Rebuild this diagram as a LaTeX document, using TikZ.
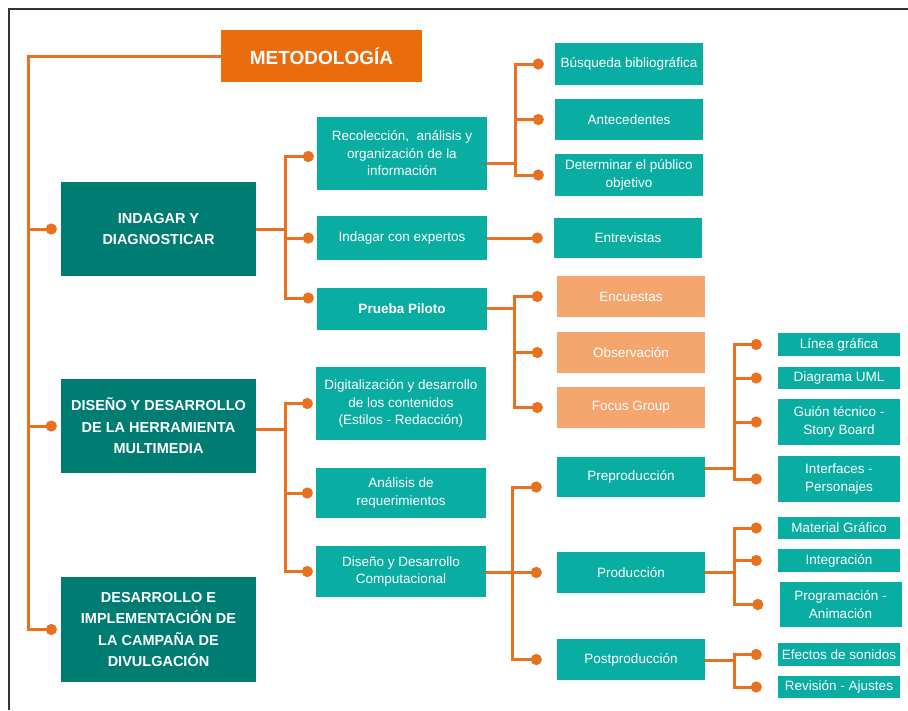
\documentclass[tikz,border=0pt]{standalone}
\usepackage{fontspec}
\setmainfont{Liberation Sans}
\usetikzlibrary{arrows.meta}
\definecolor{titor}{HTML}{EB6C0B}
\definecolor{stageteal}{HTML}{007D73}
\definecolor{taskteal}{HTML}{0AADA1}
\definecolor{probeor}{HTML}{F5A56E}
\definecolor{linkor}{HTML}{E8711F}
\definecolor{frame}{HTML}{333333}

\begin{document}
\begin{tikzpicture}[
    x=1pt, y=-1pt,
    title/.style={rectangle, fill=titor, text=white, minimum width=201pt, minimum height=52pt, inner sep=0pt, font=\bfseries\fontsize{19}{22}\selectfont},
    stage/.style={rectangle, fill=stageteal, text=white, minimum width=195pt, inner sep=2pt, align=center, font=\bfseries\fontsize{14.5}{21.5}\selectfont},
    box/.style={rectangle, fill=taskteal, text=white, inner sep=2pt, align=center, font=\fontsize{13.5}{17.5}\selectfont},
    task/.style={box, minimum width=170pt},
    sub/.style={box, minimum width=148pt},
    probe/.style={sub, fill=probeor},
    leaf/.style={box, minimum width=122pt},
    link/.style={draw=linkor, line width=3pt, -{Circle[length=11pt]}, shorten >=#1},
    link/.default=3pt
]
    \useasboundingbox (0,0) rectangle (908,710);
    \draw[frame, line width=1.3pt] (908,9) -- (9,9) -- (9,710);

    % title and stages
    \node[title] (met) at (321.5,56) {METODOLOGÍA};
    \node[stage, minimum height=94pt] (ind) at (158.5,229) {INDAGAR Y\\DIAGNOSTICAR};
    \node[stage, minimum height=94pt] (dis) at (158.5,426) {DISEÑO Y DESARROLLO\\DE LA HERRAMIENTA\\MULTIMEDIA};
    \node[stage, minimum height=105pt] (dif) at (158.5,629.5) {DESARROLLO E\\IMPLEMENTACIÓN DE\\LA CAMPAÑA DE\\DIVULGACIÓN};

    % second level
    \node[task, minimum height=73pt] (rec) at (402,153.5) {Recolección,\ \ análisis y\\organización de la\\información};
    \node[task, minimum height=44pt] (exp) at (402,238) {Indagar con expertos};
    \node[task, minimum height=42pt, font=\bfseries\fontsize{13.5}{17.5}\selectfont] (pil) at (402,309) {Prueba Piloto};
    \node[task, minimum height=73pt] (dig) at (401,403.5) {Digitalización y desarrollo\\de los contenidos\\(Estilos - Redacción)};
    \node[task, minimum height=50pt] (req) at (401,493) {Análisis de\\requerimientos};
    \node[task, minimum height=51pt] (com) at (401,571.5) {Diseño y Desarrollo\\Computacional};

    % third level
    \node[sub, minimum height=42pt] (bus) at (629,64) {Búsqueda bibliográfica};
    \node[sub, minimum height=41pt] (ant) at (629,119.5) {Antecedentes};
    \node[sub, minimum height=42pt] (pub) at (629,175) {Determinar el público\\objetivo};
    \node[sub, minimum height=40pt] (ent) at (628,238) {Entrevistas};
    \node[probe, minimum height=41pt] (enc) at (631,296.5) {Encuestas};
    \node[probe, minimum height=41pt] (obs) at (631,352.5) {Observación};
    \node[probe, minimum height=41pt] (foc) at (631,407.5) {Focus Group};
    \node[sub, minimum height=40pt] (pre) at (631,477) {Preproducción};
    \node[sub, minimum height=41pt] (pro) at (631,572.5) {Producción};
    \node[sub, minimum height=41pt] (pos) at (631,659.5) {Postproducción};

    % fourth level
    \node[leaf, minimum height=23pt] (lin) at (839,344.5) {Línea gráfica};
    \node[leaf, minimum height=22pt] (uml) at (839,378) {Diagrama UML};
    \node[leaf, minimum height=46pt] (gui) at (839,422) {Guión técnico -\\Story Board};
    \node[leaf, minimum height=46pt] (int) at (839,479) {Interfaces -\\Personajes};
    \node[leaf, minimum height=22pt] (mat) at (839,528) {Material Gráfico};
    \node[leaf, minimum height=23pt] (itg) at (839,560.5) {Integración};
    \node[leaf, minimum height=45pt] (prg) at (840.5,604.5) {Programación -\\Animación};
    \node[leaf, minimum height=23pt] (efe) at (839,654.5) {Efectos de sonidos};
    \node[leaf, minimum height=22pt] (rev) at (839,687) {Revisión - Ajustes};

    % junctions
    \coordinate (j0) at (28,56);
    \coordinate (j1) at (285,229);
    \coordinate (j1b) at (285,429);
    \coordinate (j2) at (515,163);
    \coordinate (j2b) at (514,308);
    \coordinate (j2c) at (512,572);
    \coordinate (j3) at (734,468);
    \coordinate (j3b) at (734,572);
    \coordinate (j3c) at (734,660);

    % connectors
    \foreach \c in {ind,dis,dif}
        \draw[link=4pt] (met.west) -- (j0) |- (\c.west);
    \draw[link] (j1 -| ind.east) -- (j1) |- ([yshift=-3pt]rec.west);
    \draw[link] (j1 -| ind.east) -- (j1) |- (exp.west);
    \draw[link] (j1 -| ind.east) -- (j1) |- ([yshift=11pt]pil.west);
    \foreach \c in {dig,req,com}
        \draw[link] (j1b -| dis.east) -- (j1b) |- (\c.west);
    \foreach \c in {bus,ant,pub}
        \draw[link=11pt] (j2 -| rec.east) -- (j2) |- (\c.west);
    \draw[link=11pt] (exp.east) -- (ent.west);
    \foreach \c in {enc,obs,foc}
        \draw[link=14pt] (j2b -| pil.east) -- (j2b) |- (\c.west);
    \draw[link=15pt] (j2c -| com.east) -- (j2c) |- ([yshift=-10pt]pre.west);
    \foreach \c in {pro,pos}
        \draw[link=15pt] (j2c -| com.east) -- (j2c) |- (\c.west);
    \foreach \c in {lin,uml,gui,int}
        \draw[link=16pt] (j3 -| pre.east) -- (j3) |- (\c.west);
    \foreach \c in {mat,itg,prg}
        \draw[link=16pt] (j3b -| pro.east) -- (j3b) |- (\c.west);
    \foreach \c in {efe,rev}
        \draw[link=16pt] (j3c -| pos.east) -- (j3c) |- (\c.west);
\end{tikzpicture}
\end{document}
